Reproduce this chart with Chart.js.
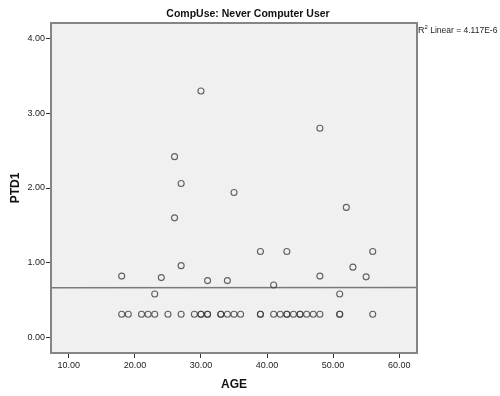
<!DOCTYPE html>
<html>
<head>
<meta charset="utf-8">
<script src="https://cdn.jsdelivr.net/npm/chart.js@4"></script>
<style>
  html, body { margin: 0; padding: 0; background: #fff; }
  #wrap { width: 500px; height: 396px; }
</style>
</head>
<body>
<div id="wrap"><canvas id="scatter"></canvas></div>
<script>
// values
const ages = [18, 18, 19, 21, 22, 23, 23, 24, 25, 26, 26, 27, 27, 27, 29, 30, 30, 30,
  31, 31, 31, 33, 33, 34, 34, 35, 35, 36, 39, 39, 39, 41, 41, 42, 43, 43, 43, 44,
  45, 45, 46, 47, 48, 48, 48, 51, 51, 51, 52, 53, 55, 56, 56];
const ptd = [0.31, 0.82, 0.31, 0.31, 0.31, 0.31, 0.58, 0.80, 0.31, 2.42, 1.60, 0.31, 2.06, 0.96, 0.31, 0.31, 0.31, 3.30,
  0.31, 0.31, 0.76, 0.31, 0.31, 0.31, 0.76, 0.31, 1.94, 0.31, 0.31, 0.31, 1.15, 0.31, 0.70, 0.31, 0.31, 0.31, 1.15, 0.31,
  0.31, 0.31, 0.31, 0.31, 0.31, 2.80, 0.82, 0.31, 0.31, 0.58, 1.74, 0.94, 0.81, 0.31, 1.15];

// linear fit line (R2 ~ 0, flat)
const fitAge = [7.3, 62.7];
const fitPtd = [0.664, 0.668];

const xTicks = [10, 20, 30, 40, 50, 60];
const yTicks = [0, 1, 2, 3, 4];
const chartTitle = "CompUse: Never Computer User";
const r2Label = "4.117E-6";

const points = ages.map((a, i) => ({ x: a, y: ptd[i] }));
const fitLine = fitAge.map((a, i) => ({ x: a, y: fitPtd[i] }));

const framePlugin = {
  id: "frame",
  beforeDraw(chart) {
    const { ctx, chartArea: a } = chart;
    ctx.save();
    ctx.fillStyle = "#f0f0f0";
    ctx.fillRect(a.left, a.top, a.right - a.left, a.bottom - a.top);
    ctx.restore();
  },
  afterDraw(chart) {
    const { ctx, chartArea: a } = chart;
    ctx.save();
    ctx.strokeStyle = "#858585";
    ctx.lineWidth = 2;
    ctx.strokeRect(a.left, a.top, a.right - a.left, a.bottom - a.top);

    // title, SPSS centres it on the whole picture
    ctx.fillStyle = "#111";
    ctx.textAlign = "center";
    ctx.textBaseline = "alphabetic";
    ctx.font = "bold 10.5px 'Liberation Sans', Arial, sans-serif";
    ctx.fillText(chartTitle, 248, 17);

    // R2 annotation
    ctx.textAlign = "left";
    ctx.fillStyle = "#222";
    let x = a.right + 1;
    const y = a.top + 10;
    ctx.font = "9px 'Liberation Sans', Arial, sans-serif";
    ctx.fillText("R", x, y);
    x += ctx.measureText("R").width;
    ctx.font = "6px 'Liberation Sans', Arial, sans-serif";
    ctx.fillText("2", x, y - 4);
    x += ctx.measureText("2").width;
    ctx.font = "8.5px 'Liberation Sans', Arial, sans-serif";
    ctx.fillText(" Linear = " + r2Label, x, y);
    ctx.restore();
  }
};

const tickFont = { family: "'Liberation Sans', Arial, sans-serif", size: 9 };
const titleFont = { family: "'Liberation Sans', Arial, sans-serif", size: 12, weight: "bold" };

new Chart(document.getElementById("scatter"), {
  type: "scatter",
  data: {
    datasets: [
      {
        label: "PTD1",
        data: points,
        pointStyle: "circle",
        pointRadius: 3,
        pointHoverRadius: 3,
        pointBorderWidth: 1.1,
        borderColor: "rgba(60,60,60,0.8)",
        backgroundColor: "rgba(0,0,0,0)"
      },
      {
        label: "Linear",
        type: "line",
        data: fitLine,
        borderColor: "#7a7a7a",
        borderWidth: 1.5,
        pointRadius: 0,
        fill: false
      }
    ]
  },
  options: {
    responsive: true,
    maintainAspectRatio: false,
    animation: false,
    events: [],
    layout: { padding: { left: 0, right: 83, top: 23, bottom: 0 } },
    plugins: {
      legend: { display: false },
      tooltip: { enabled: false },
      title: { display: false }
    },
    scales: {
      x: {
        type: "linear",
        min: 7.3,
        max: 62.7,
        afterBuildTicks: (scale) => { scale.ticks = xTicks.map((v) => ({ value: v })); },
        afterFit: (scale) => { scale.height = 43; },
        grid: { display: true, drawOnChartArea: false, tickLength: 5, color: "#333", tickWidth: 1 },
        border: { display: false },
        ticks: { color: "#222", font: tickFont, padding: 2, maxRotation: 0, callback: (v) => v.toFixed(2) },
        title: { display: true, text: "AGE", color: "#111", font: titleFont, padding: { top: 0, bottom: 4 } }
      },
      y: {
        type: "linear",
        min: -0.21,
        max: 4.21,
        afterBuildTicks: (scale) => { scale.ticks = yTicks.map((v) => ({ value: v })); },
        afterFit: (scale) => { scale.width = 51; },
        grid: { display: true, drawOnChartArea: false, tickLength: 5, color: "#333", tickWidth: 1 },
        border: { display: false },
        ticks: { color: "#222", font: tickFont, padding: 1, callback: (v) => v.toFixed(2) },
        title: { display: true, text: "PTD1", color: "#111", font: titleFont, padding: { top: 8, bottom: 0 } }
      }
    }
  },
  plugins: [framePlugin]
});
</script>
</body>
</html>
